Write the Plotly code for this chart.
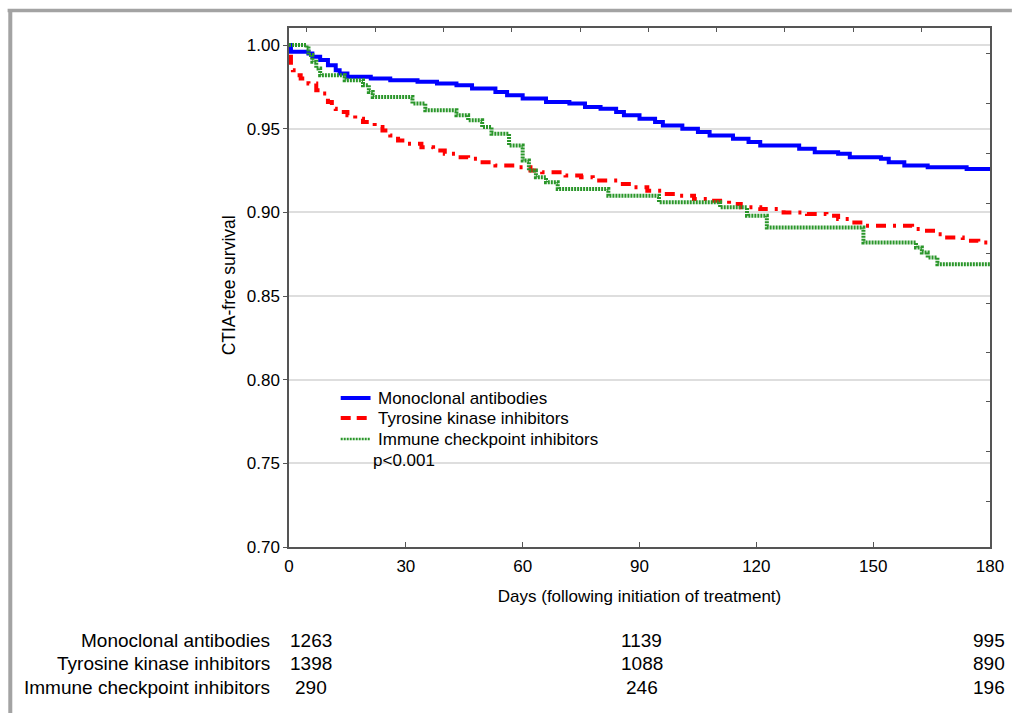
import plotly.graph_objects as go

# ---------------- data ----------------
mab_days = [0, 0.5, 5, 6, 8, 10, 12, 13, 15, 21, 26, 33, 38, 43, 47, 53, 56, 60, 66, 72,
            76, 80, 84, 86, 90, 94, 96, 101, 105, 108, 114, 118, 121, 131, 135, 141, 144,
            152, 154, 158, 164, 174, 180]
mab_surv = [1.000, 0.996, 0.995, 0.993, 0.991, 0.988, 0.985, 0.983, 0.981, 0.980, 0.979,
            0.978, 0.977, 0.976, 0.974, 0.972, 0.970, 0.968, 0.966, 0.965, 0.963, 0.962,
            0.960, 0.958, 0.956, 0.954, 0.952, 0.950, 0.948, 0.946, 0.944, 0.942, 0.940,
            0.938, 0.936, 0.935, 0.933, 0.932, 0.930, 0.928, 0.927, 0.926, 0.926]

tki_days = [0, 0.5, 1, 2, 3, 5, 7, 8, 10, 11, 12, 15, 17, 19, 22, 24, 26, 28, 30, 34, 37,
            40, 43, 46, 49, 53, 58, 62, 65, 71, 75, 78, 85, 88, 92, 96, 100, 104, 108, 113,
            116, 121, 127, 133, 138, 141, 144, 148, 160, 163, 166, 169, 173, 177, 180]
tki_surv = [0.993, 0.988, 0.985, 0.982, 0.980, 0.977, 0.973, 0.971, 0.966, 0.962, 0.960,
            0.958, 0.956, 0.954, 0.951, 0.949, 0.946, 0.943, 0.941, 0.939, 0.937, 0.935,
            0.933, 0.932, 0.930, 0.928, 0.927, 0.925, 0.924, 0.922, 0.921, 0.919, 0.917,
            0.915, 0.913, 0.911, 0.910, 0.908, 0.907, 0.905, 0.903, 0.902, 0.900, 0.899,
            0.898, 0.896, 0.894, 0.892, 0.890, 0.889, 0.887, 0.885, 0.883, 0.882, 0.881]

ici_days = [0, 4.5, 5, 6, 7, 8, 14.3, 19, 20.5, 21.5, 31.7, 35, 43, 46, 49.6, 52, 56.5, 60,
            61.6, 63.4, 66, 69, 82, 95, 110.7, 117.6, 122.7, 147.5, 161, 162.5, 164, 166.5,
            180]
ici_surv = [1.000, 0.998, 0.994, 0.990, 0.986, 0.982, 0.979, 0.976, 0.972, 0.969, 0.965,
            0.961, 0.958, 0.955, 0.951, 0.947, 0.940, 0.931, 0.925, 0.921, 0.918, 0.914,
            0.910, 0.906, 0.903, 0.898, 0.891, 0.882, 0.879, 0.876, 0.873, 0.869, 0.869]

series_names = ["Monoclonal antibodies", "Tyrosine kinase inhibitors",
                "Immune checkpoint inhibitors"]

x_ticks = [0, 30, 60, 90, 120, 150, 180]
y_ticks = [0.70, 0.75, 0.80, 0.85, 0.90, 0.95, 1.00]
y_tick_labels = ["0.70", "0.75", "0.80", "0.85", "0.90", "0.95", "1.00"]
top_minor_ticks = [4.6, 22.1, 39.6, 57.2, 74.8, 92.4, 109.8, 127.2, 145.0, 162.5]
right_minor_ticks = [0.995, 0.965, 0.935, 0.9056, 0.8757, 0.8458, 0.8162, 0.7867,
                     0.757, 0.727]

risk_days = [0, 90, 180]
risk_mab = [1263, 1139, 995]
risk_tki = [1398, 1088, 890]
risk_ici = [290, 246, 196]
p_text = "p<0.001"

# ---------------- geometry ----------------
W, H = 1016, 713
L, R, T, B = 289, 22, 28, 166
PW, PH = W - L - R, H - T - B
FONT = "Arial, Liberation Sans, sans-serif"

colors = ["#0000ff", "#ff0000", "#2a962a"]
dashes = ["solid", "10px,7px,3px,7px", "2px,1px"]
legend_dashes = ["solid", "10px,6px", "2px,1px"]
legend_widths = [4, 4, 2.5]


def px_x(px):
    return (px - L) / PW


def px_y(py):
    return (H - B - py) / PH


fig = go.Figure()
for name, xs, ys, c, d in zip(series_names, [mab_days, tki_days, ici_days],
                              [mab_surv, tki_surv, ici_surv], colors, dashes):
    fig.add_trace(go.Scatter(x=xs, y=ys, mode="lines", name=name, showlegend=False,
                             line=dict(color=c, width=4, shape="hv", dash=d)))
# empty traces to host the decorative top / right tick axes
fig.add_trace(go.Scatter(x=[], y=[], xaxis="x2", yaxis="y", showlegend=False,
                         hoverinfo="skip"))
fig.add_trace(go.Scatter(x=[], y=[], xaxis="x", yaxis="y2", showlegend=False,
                         hoverinfo="skip"))

annotations = []
shapes = [
    dict(type="line", xref="paper", yref="paper", x0=px_x(6), x1=px_x(1016),
         y0=px_y(10.6), y1=px_y(10.6), line=dict(color="#a3a3a3", width=3.5)),
    dict(type="line", xref="paper", yref="paper", x0=px_x(8.7), x1=px_x(8.7),
         y0=px_y(9), y1=px_y(713), line=dict(color="#a3a3a3", width=4)),
]

# legend (drawn manually to match the compact spacing)
legend_rows = [398, 418, 439]
for name, c, d, w, yy in zip(series_names, colors, legend_dashes, legend_widths,
                             legend_rows):
    shapes.append(dict(type="line", xref="paper", yref="paper", x0=px_x(341),
                       x1=px_x(371), y0=px_y(yy), y1=px_y(yy),
                       line=dict(color=c, width=w, dash=d)))
    annotations.append(dict(x=px_x(376), y=px_y(yy), xref="paper", yref="paper",
                            text=name, showarrow=False, xanchor="left",
                            yanchor="middle",
                            font=dict(family=FONT, size=17, color="#000")))
annotations.append(dict(x=px_x(371), y=px_y(460), xref="paper", yref="paper",
                        text=p_text, showarrow=False, xanchor="left", yanchor="middle",
                        font=dict(family=FONT, size=17, color="#000")))

# risk table
row_y = [640, 663, 687]
rows = [risk_mab, risk_tki, risk_ici]
col_px = [311, 644, 993]
for name, vals, yy in zip(series_names, rows, row_y):
    annotations.append(dict(x=px_x(272), y=px_y(yy), xref="paper", yref="paper",
                            text=name, showarrow=False, xanchor="right", yanchor="middle",
                            font=dict(family=FONT, size=19, color="#000")))
    for d, v, cx in zip(risk_days, vals, col_px):
        annotations.append(dict(x=px_x(cx), y=px_y(yy), xref="paper", yref="paper",
                                text=str(v), showarrow=False, xanchor="center",
                                yanchor="middle",
                                font=dict(family=FONT, size=19, color="#000")))

annotations.append(dict(x=px_x(229), y=px_y(285), xref="paper", yref="paper",
                        text="CTIA-free survival", showarrow=False, textangle=-90,
                        xanchor="center", yanchor="middle",
                        font=dict(family=FONT, size=17.5, color="#000")))

axis_line = "#555555"
fig.update_layout(
    width=W, height=H,
    margin=dict(l=L, r=R, t=T, b=B, pad=0),
    paper_bgcolor="white", plot_bgcolor="white",
    font=dict(family=FONT, size=17, color="#000"),
    showlegend=False,
    xaxis=dict(range=[0, 180], tickvals=x_ticks, ticks="inside", ticklen=5,
               tickcolor=axis_line, showline=True, linecolor=axis_line, linewidth=1.5,
               mirror=True, showgrid=False, zeroline=False, ticklabelstandoff=3,
               tickfont=dict(family=FONT, size=17),
               title=dict(text="Days (following initiation of treatment)",
                          font=dict(family=FONT, size=17), standoff=15)),
    yaxis=dict(range=[0.70, 1.0102], tickvals=y_ticks, ticktext=y_tick_labels,
               ticks="outside", ticklen=4, tickcolor=axis_line, showline=True,
               linecolor=axis_line, linewidth=1.5, mirror=True, showgrid=True,
               gridcolor="#dedede", gridwidth=1.5, zeroline=False,
               tickfont=dict(family=FONT, size=17)),
    xaxis2=dict(range=[0, 180], overlaying="x", side="top", anchor="y",
                tickvals=top_minor_ticks, ticks="inside", ticklen=4,
                tickcolor=axis_line, showticklabels=False, showline=False,
                showgrid=False, zeroline=False),
    yaxis2=dict(range=[0.70, 1.0102], overlaying="y", side="right", anchor="x",
                tickvals=right_minor_ticks, ticks="inside", ticklen=4,
                tickcolor=axis_line, showticklabels=False, showline=False,
                showgrid=False, zeroline=False),
    annotations=annotations,
    shapes=shapes,
)

fig.write_html("out.html")
